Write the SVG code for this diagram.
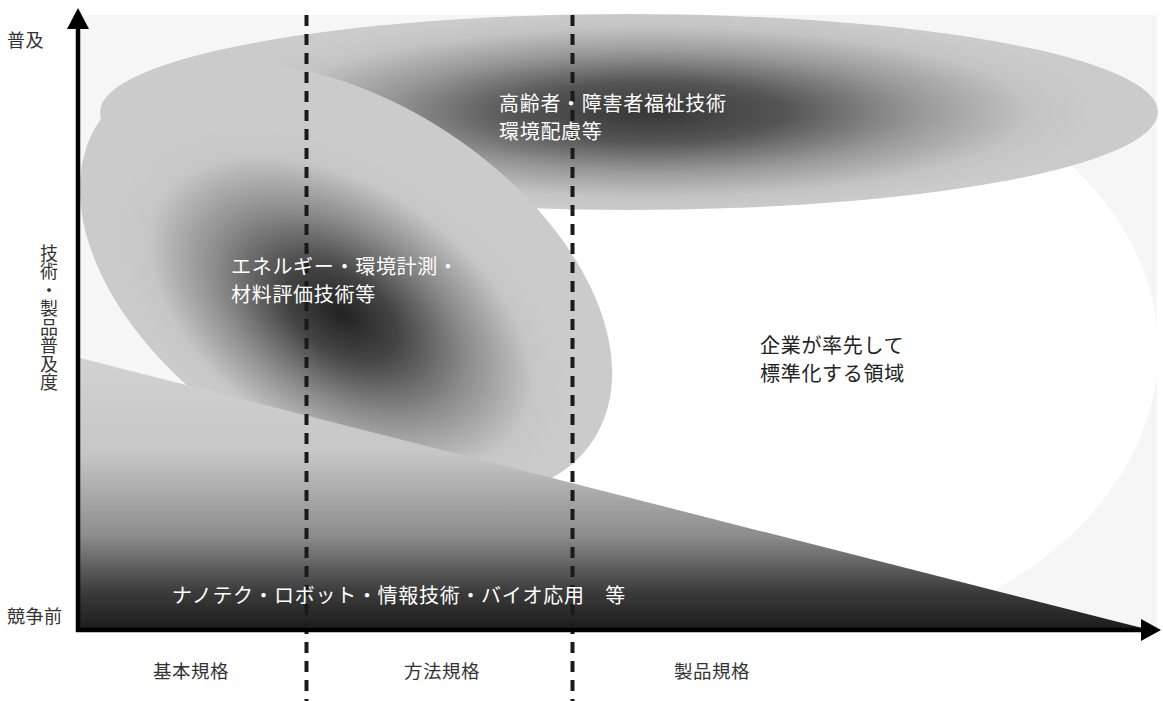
<svg xmlns="http://www.w3.org/2000/svg" width="1163" height="701" viewBox="0 0 1163 701">
  <defs>
    <radialGradient id="gTop" gradientUnits="userSpaceOnUse" cx="0" cy="0" r="1" gradientTransform="translate(650,112) scale(450,100)">
      <stop offset="0" stop-color="#363636"/>
      <stop offset="0.3" stop-color="#555555"/>
      <stop offset="0.6" stop-color="#999999"/>
      <stop offset="0.85" stop-color="#c4c4c4"/>
      <stop offset="1" stop-color="#cbcbcb"/>
    </radialGradient>
    <radialGradient id="gTilt" gradientUnits="userSpaceOnUse" cx="0" cy="0" r="1" gradientTransform="translate(13,30) scale(250,150)">
      <stop offset="0" stop-color="#222222"/>
      <stop offset="0.25" stop-color="#444444"/>
      <stop offset="0.55" stop-color="#8a8a8a"/>
      <stop offset="0.85" stop-color="#c6c6c6"/>
      <stop offset="1" stop-color="#cbcbcb"/>
    </radialGradient>
    <linearGradient id="gTri" gradientUnits="userSpaceOnUse" x1="0" y1="358" x2="0" y2="632">
      <stop offset="0" stop-color="#d2d2d2"/>
      <stop offset="0.35" stop-color="#c6c6c6"/>
      <stop offset="0.65" stop-color="#8c8c8c"/>
      <stop offset="0.85" stop-color="#3c3c3c"/>
      <stop offset="1" stop-color="#1a1a1a"/>
    </linearGradient>
  </defs>
  <style>
    .ax { font-family: "Noto Sans CJK JP", "Noto Sans", sans-serif; font-size: 18px; fill: #333333; letter-spacing: 0.5px; }
    .vt { writing-mode: vertical-rl; text-orientation: upright; }
    .in { font-family: "Noto Sans CJK JP", "Noto Sans", sans-serif; font-size: 20px; fill: #ffffff; letter-spacing: 0.7px; }
    .dk { font-family: "Noto Sans CJK JP", "Noto Sans", sans-serif; font-size: 20px; fill: #222222; letter-spacing: 0.7px; }
    .dash { stroke: #1a1a1a; stroke-width: 4; stroke-dasharray: 11 8; fill: none; }
    .axis { stroke: #000000; stroke-width: 4.5; fill: none; }
  </style>

  <rect x="0" y="0" width="1163" height="701" fill="#ffffff"/>

  <g id="background">
    <rect x="80" y="15" width="1077" height="615" fill="#f6f6f6"/>
    <ellipse id="company-region-shape" cx="748" cy="350" rx="410" ry="300" fill="#ffffff"/>
  </g>

  <g id="node-welfare">
    <ellipse cx="629" cy="112" rx="529" ry="98" fill="url(#gTop)"/>
  </g>

  <g id="node-energy">
    <g transform="translate(346,281) rotate(32.5)">
      <ellipse cx="0" cy="0" rx="294" ry="180" fill="url(#gTilt)"/>
    </g>
  </g>

  <g id="node-nano">
    <polygon points="80,358 1150,630 80,630" fill="url(#gTri)"/>
  </g>

  <g id="connectors">
    <line class="dash" x1="306.5" y1="15" x2="306.5" y2="701"/>
    <line class="dash" x1="572.5" y1="15" x2="572.5" y2="701"/>
    <line class="axis" x1="78" y1="632" x2="78" y2="27"/>
    <polygon points="78,8 67,29 89,29" fill="#000000"/>
    <line class="axis" x1="76" y1="630" x2="1143" y2="630"/>
    <polygon points="1161,630 1141,619 1141,641" fill="#000000"/>
  </g>

  <g id="labels">
    <text class="ax" x="7" y="47">普及</text>
    <text class="ax vt" x="49" y="244">技術・製品普及度</text>
    <text class="ax" x="7" y="623">競争前</text>
    <text class="ax" x="153" y="678" style="font-size:18.5px">基本規格</text>
    <text class="ax" x="404" y="678" style="font-size:18.5px">方法規格</text>
    <text class="ax" x="674" y="678" style="font-size:18.5px">製品規格</text>
  </g>

  <g id="node-welfare-label">
    <text class="in" x="499" y="111">高齢者・障害者福祉技術</text>
    <text class="in" x="499" y="139">環境配慮等</text>
  </g>
  <g id="node-energy-label">
    <text class="in" x="231" y="274">エネルギー・環境計測・</text>
    <text class="in" x="231" y="302">材料評価技術等</text>
  </g>
  <g id="node-company">
    <text class="dk" x="760" y="353">企業が率先して</text>
    <text class="dk" x="760" y="381">標準化する領域</text>
  </g>
  <g id="node-nano-label">
    <text class="in" x="172" y="603">ナノテク・ロボット・情報技術・バイオ応用　等</text>
  </g>
</svg>
